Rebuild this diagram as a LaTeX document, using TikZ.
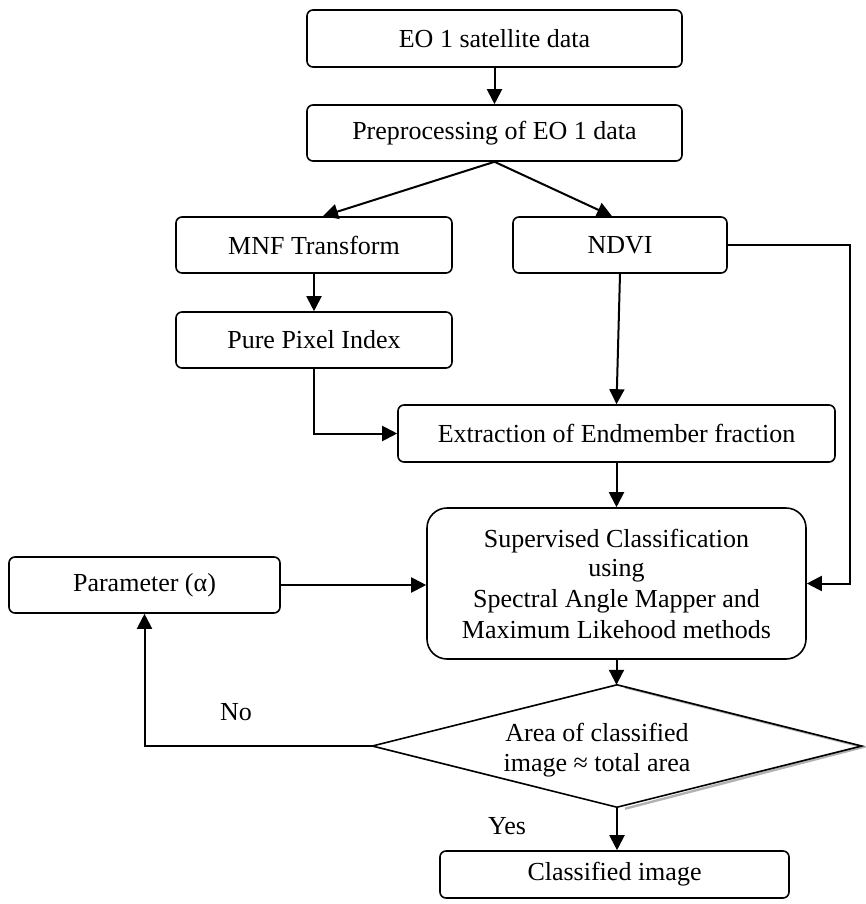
\documentclass[tikz,border=0pt]{standalone}
\usepackage{fontspec}
\setmainfont{Liberation Serif}
\usetikzlibrary{arrows.meta,shapes.geometric,calc}
\begin{document}
\begin{tikzpicture}[x=1pt,y=-1pt,
  box/.style={draw,line width=1.6pt,rounded corners=6pt,inner sep=0pt,
    font=\fontsize{26}{30}\selectfont,align=center},
  conn/.style={line width=2pt,-{Triangle[length=15pt,width=15pt]}},
  lbl/.style={font=\fontsize{26}{30}\selectfont,inner sep=0pt}]
\useasboundingbox[fill=white] (0,0) rectangle (865,904);
\node[box,minimum width=375pt,minimum height=57pt] (eo) at (494.5,38.5) {EO 1 satellite data};
\node[box,minimum width=375pt,minimum height=56pt] (pre) at (494.5,133) {Preprocessing of EO 1 data};
\node[box,minimum width=276pt,minimum height=56pt] (mnf) at (314,245) {MNF Transform};
\node[box,minimum width=214pt,minimum height=56pt] (ndvi) at (620,245) {NDVI};
\node[box,minimum width=276pt,minimum height=56pt] (ppi) at (314,340) {Pure Pixel Index};
\node[box,minimum width=437pt,minimum height=57pt] (ext) at (616.5,433.5) {Extraction of Endmember fraction};
\node[box,rounded corners=20pt,minimum width=379pt,minimum height=151pt] (sup) at (616.5,583.5)
  {\raisebox{-4pt}{\shortstack{Supervised Classification\\[4pt]using\\[4pt]Spectral Angle Mapper and\\[4pt]Maximum Likehood methods}}};
\node[box,minimum width=271pt,minimum height=56pt] (par) at (144.5,585) {Parameter (α)};
\node[box,minimum width=349pt,minimum height=47pt] (cls) at (614.5,874.5) {Classified image};
% decision
\node[diamond,minimum width=489pt,minimum height=122pt,inner sep=0pt,align=center,
  font=\fontsize{26}{30}\selectfont] (dia) at (617,746) {};
\draw[gray!60,line width=2.4pt] ($(dia.north)+(8,2.5)$) -- ($(dia.east)+(1.5,1)$) -- ($(dia.south)+(8,1.5)$);
\draw[line width=1.6pt] (dia.north) -- (dia.east) -- (dia.south) -- (dia.west) -- cycle;
\node[lbl,align=center] (diatxt) at (597,750) {Area of classified\\image ≈ total area};
\node[lbl] (no) at (236,712) {No};
\node[lbl] (yes) at (507,826) {Yes};
\coordinate (rt) at (850,245);
% connectors
\draw[conn] (eo) -- (pre);
\draw[conn] (pre.south) -- ($(mnf.north)+(9,0)$);
\draw[conn] (pre.south) -- ($(ndvi.north)+(-8,0)$);
\draw[conn] (mnf) -- (ppi);
\draw[conn] (ppi.south) |- (ext.west);
\draw[conn] (ndvi.south) -- (ext.north);
\draw[conn] (ndvi.east) -- (rt) |- (sup.east);
\draw[conn] (ext) -- (sup);
\draw[conn] (par.east) -- (par.east -| sup.west);
\draw[conn] (sup.south) -- (sup.south |- dia.north);
\draw[conn] (dia.west) -| (par.south);
\draw[conn] (dia.south) -- (dia.south |- cls.north);
\end{tikzpicture}
\end{document}
